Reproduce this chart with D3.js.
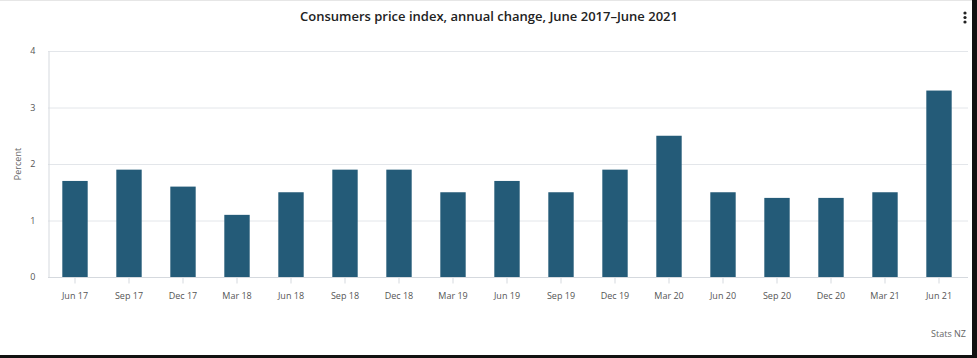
<!DOCTYPE html>
<html><head><meta charset="utf-8">
<script src="https://cdn.jsdelivr.net/npm/d3@7"></script>
<style>
html,body{margin:0;padding:0;background:#fff;}
svg{display:block;}
text{font-family:"Open Sans","Lato",sans-serif;}
</style></head>
<body>
<script>
const categories = ["Jun 17","Sep 17","Dec 17","Mar 18","Jun 18","Sep 18","Dec 18","Mar 19","Jun 19","Sep 19","Dec 19","Mar 20","Jun 20","Sep 20","Dec 20","Mar 21","Jun 21"];
const values = [1.7,1.9,1.6,1.1,1.5,1.9,1.9,1.5,1.7,1.5,1.9,2.5,1.5,1.4,1.4,1.5,3.3];
const yTicks = [0,1,2,3,4];
const titleText = "Consumers price index, annual change, June 2017\u2013June 2021";
const yLabel = "Percent";
const creditText = "Stats NZ";

(function(){
const W = 977, H = 358;
const svg = d3.select("body").append("svg").attr("width", W).attr("height", H);

// screenshot frame edges
svg.append("rect").attr("x",0).attr("y",0).attr("width",W).attr("height",1).attr("fill","#e6e6e6");
svg.append("rect").attr("x",972).attr("y",0).attr("width",5).attr("height",H).attr("fill","#111");
svg.append("rect").attr("x",0).attr("y",355).attr("width",W).attr("height",3).attr("fill","#111");

const mL = 48, mR = 966, mT = 51, mB = 277;
const x = d3.scaleBand().domain(categories).range([mL, mR]).paddingInner(0.53).paddingOuter(0.265);
const y = d3.scaleLinear().domain([0,4]).range([mB, mT]);

// gridlines
svg.append("g").selectAll("line").data(yTicks.filter(d=>d>0)).join("line")
  .attr("x1", mL).attr("x2", 968).attr("y1", d=>y(d)+0.5).attr("y2", d=>y(d)+0.5)
  .attr("stroke","#e3e6ea").attr("stroke-width",1);

// y axis
const yAxis = svg.append("g").attr("transform",`translate(${mL+0.5},0)`)
  .call(d3.axisLeft(y).tickValues(yTicks).tickSize(0).tickPadding(13).tickFormat(d3.format("d")));
yAxis.select(".domain").attr("stroke","#d5d9de");
yAxis.selectAll("text").attr("fill","#555").style("font-size","9px");

// bars
svg.append("g").selectAll("rect").data(values).join("rect")
  .attr("x",(d,i)=>x(categories[i])).attr("width",x.bandwidth())
  .attr("y",d=>y(d)).attr("height",d=>y(0)-y(d))
  .attr("fill","#245b78");

// x axis
const xAxis = svg.append("g").attr("transform",`translate(0,${mB+0.5})`)
  .call(d3.axisBottom(x).tickSize(6).tickPadding(9));
xAxis.select(".domain").attr("stroke","#d5d9de").attr("d",`M${mL},0H968`);
xAxis.selectAll(".tick line").attr("stroke","#d5d9de");
xAxis.selectAll("text").attr("fill","#555").style("font-size","9px");

// y label
svg.append("text").attr("transform",`translate(21,${(mT+mB)/2}) rotate(-90)`)
  .attr("text-anchor","middle").attr("fill","#666").style("font-size","9px").text(yLabel);

// title
svg.append("text").attr("x",489).attr("y",21).attr("text-anchor","middle")
  .attr("fill","#222").style("font-size","13px").style("font-weight","600").text(titleText);

// menu dots
svg.append("g").selectAll("circle").data([0,1,2]).join("circle")
  .attr("cx",965).attr("cy",d=>13+d*4.5).attr("r",1.6).attr("fill","#222");

// credit
svg.append("text").attr("x",966).attr("y",337).attr("text-anchor","end")
  .attr("fill","#666").style("font-size","9px").text(creditText);
})();
</script>
</body></html>
